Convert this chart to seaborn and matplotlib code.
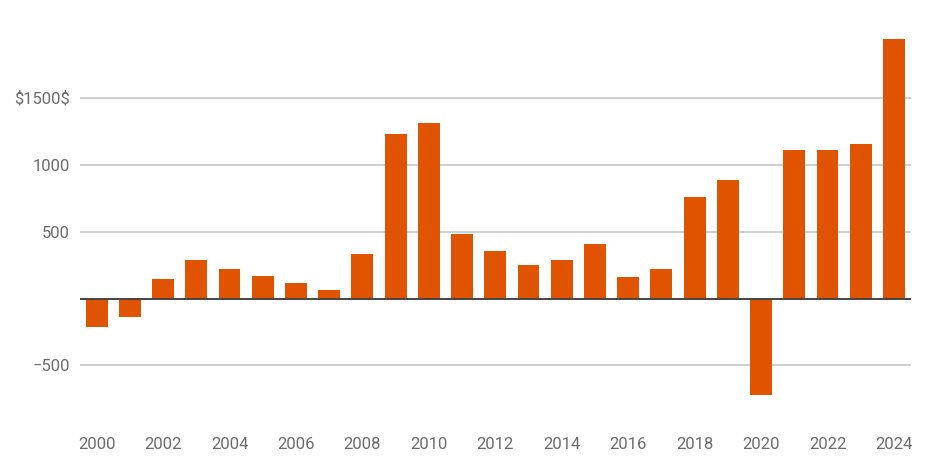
import matplotlib
matplotlib.use("Agg")
import matplotlib.pyplot as plt
import seaborn as sns
import pandas as pd

years = list(range(2000, 2025))
values = [-213, -139, 145, 287, 219, 169, 115, 63, 331, 1229,
          1309, 485, 354, 249, 289, 408, 162, 219, 757, 884,
          -724, 1112, 1112, 1154, 1938]
ytick_values = [-500, 0, 500, 1000, 1500]
ytick_labels = ["\u2212500", "", "500", "1000", "\\$1500\\$"]

bar_color = "#E05300"
text_color = "#6b6b6b"

sns.set_theme(style="white")
plt.rcParams["font.family"] = ["Roboto", "DejaVu Sans"]

df = pd.DataFrame({"year": [str(y) for y in years], "value": values})

fig = plt.figure(figsize=(9.5, 4.74), dpi=100)
ax = fig.add_axes([0.0842, 0.116, 0.8743, 0.819])

sns.barplot(data=df, x="year", y="value", color=bar_color, saturation=1,
            width=0.66, edgecolor="none", ax=ax)

ax.set_ylim(-900, 2000)
ax.set_xlim(-0.5, len(years) - 0.5)

for v in ytick_values:
    if v != 0:
        ax.axhline(v, color="#cccccc", lw=1.3, zorder=0)
ax.axhline(0, color="#444444", lw=1.4, zorder=3)

ax.set_yticks(ytick_values)
ax.set_yticklabels(ytick_labels)
ax.set_xticks(range(0, len(years), 2))
ax.set_xticklabels([str(y) for y in years[::2]])

ax.tick_params(axis="both", length=0, labelsize=12, colors=text_color)
ax.tick_params(axis="y", pad=7)
ax.tick_params(axis="x", pad=13)
ax.set_xlabel("")
ax.set_ylabel("")
sns.despine(ax=ax, left=True, bottom=True)

fig.savefig("out.png", dpi=100)
